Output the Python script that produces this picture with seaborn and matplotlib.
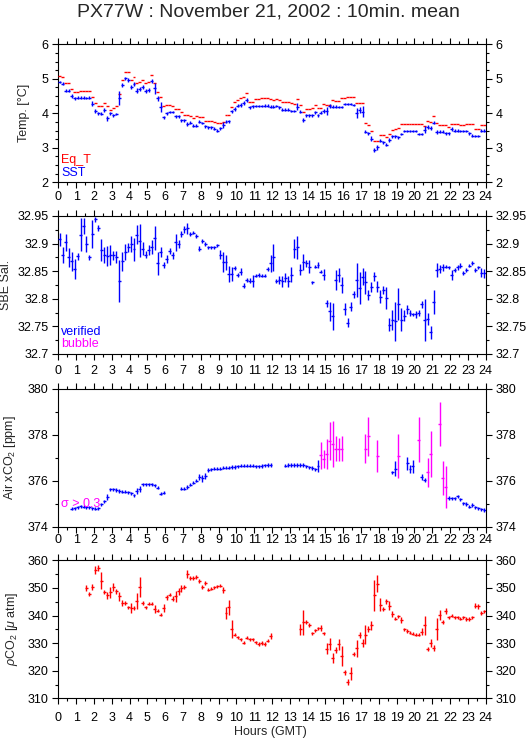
import numpy as np
import matplotlib
matplotlib.use('Agg')
import matplotlib.pyplot as plt
from matplotlib.ticker import MultipleLocator, FuncFormatter
import seaborn as sns

# 10 minute means, 144 bins per day (None = no data)
# --- panel 1: temperatures [degC]
eq_t = [5.07, 5.05, 4.87, 4.87, 4.70, 4.61,  4.61, 4.64, 4.64, 4.65, 4.66, 4.48,
        4.29, 4.20, 4.20, 4.29, 4.20, 4.10,  4.16, 4.20, 4.55, 4.97, 5.19, 5.19,
        4.97, 5.04, 4.87, 4.90, 4.97, 4.87,  4.92, 5.11, 4.87, 4.61, 4.46, 4.20,
        4.24, 4.24, 4.22, 4.12, 4.12, 4.03,  3.95, 3.95, 3.92, 3.87, 3.92, 3.90,
        3.90, 3.79, 3.79, 3.79, 3.74, 3.71,  3.71, 3.74, 3.95, 3.95, 4.19, 4.32,
        4.39, 4.43, 4.47, 4.58, 4.34, 4.34,  4.41, 4.41, 4.43, 4.43, 4.43, 4.40,
        4.39, 4.40, 4.39, 4.32, 4.32, 4.32,  4.30, 4.28, 4.40, 4.23, 4.05, 4.12,
        4.12, 4.14, 4.23, 4.14, 4.14, 4.26,  4.24, 4.24, 4.39, 4.37, 4.37, 4.43,
        4.43, 4.46, 4.46, 4.46, 4.29, 4.29,  4.29, 3.71, 3.65, 3.48, 3.20, 3.20,
        3.38, 3.38, 3.30, 3.41, 3.52, 3.54,  3.57, 3.68, 3.68, 3.68, 3.68, 3.68,
        3.68, 3.68, 3.68, 3.63, 3.78, 3.75,  3.92, 3.71, 3.65, 3.65, 3.65, 3.60,
        3.70, 3.68, 3.68, 3.65, 3.65, 3.68,  3.68, 3.68, 3.55, 3.55, 3.65, 3.65]
sst = [4.90, 4.86, 4.66, 4.66, 4.50, 4.43,  4.45, 4.45, 4.45, 4.44, 4.45, 4.28,
       4.07, 4.00, 3.99, 4.10, 3.85, 4.00,  3.94, 3.98, 4.45, 4.82, 5.01, 4.97,
       4.77, 4.85, 4.66, 4.70, 4.77, 4.65,  4.68, 4.94, 4.72, 4.43, 4.19, 3.88,
       4.00, 4.04, 4.04, 3.91, 3.91, 3.80,  3.80, 3.69, 3.73, 3.64, 3.64, 3.76,
       3.72, 3.62, 3.59, 3.59, 3.55, 3.50,  3.57, 3.66, 3.76, 3.77, 4.06, 4.12,
       4.22, 4.24, 4.31, 4.39, 4.17, 4.20,  4.20, 4.21, 4.22, 4.22, 4.22, 4.19,
       4.19, 4.20, 4.17, 4.10, 4.10, 4.10,  4.07, 4.07, 4.19, 4.05, 3.81, 3.94,
       3.94, 3.94, 4.03, 3.94, 4.02, 4.07,  4.07, 4.21, 4.19, 4.19, 4.18, 4.18,
       4.27, 4.27, 4.27, 4.24, 4.00, 4.10,  4.05, 3.47, 3.42, 3.26, 2.94, 3.01,
       3.21, 3.16, 3.09, 3.23, 3.33, 3.33,  3.30, 3.40, 3.48, 3.48, 3.48, 3.48,
       3.48, 3.40, 3.40, 3.52, 3.61, 3.57,  3.73, 3.47, 3.47, 3.47, 3.42, 3.42,
       3.55, 3.50, 3.50, 3.49, 3.49, 3.49,  3.42, 3.35, 3.35, 3.35, 3.50, 3.50]
sst_err = [.03, .04, .05, .05, .05, .05,  .05, .04, .04, .04, .04, .08,
           .05, .04, .04, .05, .07, .05,  .04, .04, .20, .05, .04, .05,
           .06, .05, .06, .06, .06, .05,  .05, .05, .17, .06, .15, .05,
           .05, .04, .04, .05, .05, .04,  .04, .05, .04, .04, .04, .04,
           .04, .04, .04, .04, .04, .04,  .04, .08, .05, .05, .05, .05,
           .05, .06, .06, .05, .05, .04,  .03, .03, .03, .04, .05, .04,
           .04, .03, .04, .04, .04, .04,  .04, .04, .10, .04, .05, .05,
           .05, .04, .04, .05, .04, .05,  .12, .05, .04, .04, .04, .04,
           .04, .04, .04, .04, .15, .08,  .17, .05, .05, .07, .06, .06,
           .05, .05, .04, .05, .05, .04,  .04, .04, .03, .03, .03, .03,
           .03, .04, .04, .10, .06, .05,  .05, .06, .05, .04, .04, .04,
           .05, .04, .04, .04, .04, .04,  .04, .04, .03, .03, .05, .04]

# --- panel 2: SBE salinity
sal = [32.908, 32.879, 32.902, 32.875, 32.868, 32.854,  32.877, 32.916, 32.932, 32.899, 32.875, 32.917,
       32.944, 32.928, 32.888, 32.879, 32.878, 32.879,  32.879, 32.876, 32.832, 32.868, 32.885, 32.893,
       32.899, 32.890, 32.916, 32.905, 32.891, 32.880,  32.888, 32.894, 32.910, 32.864, 32.885, 32.861,
       32.872, 32.887, 32.879, 32.902, 32.899, 32.917,  32.926, 32.928, 32.917, 32.920, 32.914, 32.891,
       32.905, 32.899, 32.893, 32.893, 32.893, 32.897,  32.880, 32.867, 32.866, 32.845, 32.845, 32.856,
       32.843, 32.849, 32.824, 32.834, 32.833, 32.833,  32.842, 32.843, 32.842, 32.842, 32.854, 32.864,
       32.875, 32.832, 32.834, 32.832, 32.838, 32.832,  32.844, 32.891, 32.893, 32.853, 32.867, 32.864,
       32.858, 32.830, 32.858, 32.861, 32.849, 32.844,  32.792, 32.777, 32.768, 32.834, 32.843, 32.825,
       32.782, 32.757, 32.786, 32.808, 32.834, 32.819,  32.840, 32.830, 32.807, 32.822, 32.841, 32.822,
       32.804, 32.816, 32.801, 32.753, 32.762, 32.759,  32.791, 32.762, 32.769, 32.781, 32.774, 32.772,
       32.772, 32.774, 32.790, 32.762, 32.763, 32.739,  32.794, 32.852, 32.854, 32.857, 32.858, 32.857,
       32.843, 32.852, 32.857, 32.860, 32.847, 32.852,  32.860, 32.865, 32.852, 32.857, 32.847, 32.846]
sal_err = [.012, .014, .015, .017, .017, .018,  .006, .030, .014, .014, .004, .025,
           .004, .006, .020, .015, .018, .018,  .008, .011, .038, .017, .015, .008,
           .014, .021, .017, .030, .012, .006,  .009, .012, .021, .021, .009, .006,
           .008, .005, .006, .015, .007, .005,  .006, .010, .004, .003, .004, .004,
           .004, .004, .003, .003, .003, .003,  .008, .018, .014, .014, .012, .004,
           .004, .006, .004, .004, .004, .011,  .003, .003, .003, .003, .004, .015,
           .024, .003, .008, .010, .008, .010,  .014, .017, .020, .010, .014, .006,
           .012, .003, .003, .006, .003, .010,  .006, .018, .025, .018, .013, .015,
           .011, .008, .009, .006, .030, .029,  .015, .021, .009, .009, .008, .010,
           .012, .008, .020, .012, .018, .035,  .029, .021, .010, .008, .005, .003,
           .006, .005, .006, .038, .011, .011,  .022, .012, .008, .006, .003, .003,
           .009, .004, .005, .004, .003, .003,  .003, .003, .003, .003, .008, .008]

# --- panel 3: air xCO2 [ppm], verified values
n = None
xco2 = [n, n, n, n, 374.78, 374.80,  374.85, 374.88, 374.87, 374.85, 374.84, 374.80,
        374.78, 374.80, 374.97, 375.10, 375.30, 375.63,  375.63, 375.60, 375.55, 375.52, 375.52, 375.50,
        375.45, 375.37, 375.55, 375.65, 375.85, 375.85,  375.85, 375.84, 375.80, 375.70, 375.43, 375.48,
        n, n, n, n, n, 375.65,  375.65, 375.73, 375.83, 375.92, 376.00, 376.17,
        376.10, 376.20, 376.47, 376.50, 376.53, 376.53,  376.53, 376.56, 376.57, 376.57, 376.60, 376.60,
        376.63, 376.65, 376.65, 376.65, 376.65, 376.65,  376.63, 376.63, 376.64, 376.67, 376.68, 376.68,
        n, n, n, n, 376.66, 376.68,  376.68, 376.68, 376.68, 376.68, 376.68, 376.63,
        376.58, 376.55, 376.50, 376.63, n, n,  n, n, n, n, n, n,
        n, n, n, n, n, n,  n, n, n, n, n, n,
        n, n, n, n, 376.36, 376.53,  n, n, n, 376.75, 376.50, 376.63,
        n, n, 376.17, 376.03, n, n,  n, n, n, n, n, 375.26,
        375.23, 375.23, 375.33, 375.19, 375.01, 374.99,  374.87, 374.94, 374.84, 374.80, 374.75, 374.73]
xco2_err = [0, 0, 0, 0, .07, .07,  .07, .07, .07, .07, .07, .07,
            .07, .07, .07, .07, .12, .07,  .07, .07, .07, .07, .07, .07,
            .07, .07, .12, .12, .07, .07,  .07, .07, .07, .07, .07, .07,
            0, 0, 0, 0, 0, .07,  .07, .07, .07, .07, .07, .12,
            .15, .12, .07, .07, .07, .07,  .07, .07, .07, .07, .07, .07,
            .07, .07, .07, .07, .07, .07,  .07, .07, .07, .07, .07, .07,
            0, 0, 0, 0, .07, .07,  .07, .07, .07, .07, .07, .07,
            .07, .07, .07, .27, 0, 0,  0, 0, 0, 0, 0, 0,
            0, 0, 0, 0, 0, 0,  0, 0, 0, 0, 0, 0,
            0, 0, 0, 0, .08, .33,  0, 0, 0, .28, .18, .29,
            0, 0, .14, .07, 0, 0,  0, 0, 0, 0, 0, .08,
            .07, .07, .07, .07, .07, .07,  .07, .07, .07, .07, .07, .10]
# flagged (bubble) values: bin index, value, sigma
bubble_bin = [88, 89, 90, 91, 92, 93, 94, 95, 103, 104, 107, 114, 121, 124, 125, 128, 129, 130]
bubble_val = [377.11, 376.94, 377.18, 377.72, 377.59, 377.40, 377.37, 377.40, 377.40,
              377.93, 377.07, 377.07, 377.79, 376.36, 377.18, 378.48, 376.10, 375.74]
bubble_err = [0.58, 0.38, 0.65, 0.82, 1.00, 0.55, 0.50, 0.55, 0.62,
              0.85, 0.70, 0.96, 0.97, 0.62, 1.00, 0.96, 0.74, 0.92]

# --- panel 4: pCO2 [uatm]
pco2 = [n, n, n, n, n, n,  n, n, n, 349.9, 347.8, 350.3,
        356.6, 357.2, 352.6, 348.5, 347.3, 348.5,  350.3, 348.7, 346.9, 344.6, 344.5, 342.9,
        342.7, 342.7, 345.3, 350.2, 344.5, 343.0,  344.3, 344.3, 342.4, 341.8, 340.3, 342.7,
        346.6, 347.5, 346.1, 346.9, 348.7, 349.9,  350.3, 355.0, 353.6, 353.6, 353.9, 352.6,
        350.3, 351.8, 349.3, 349.7, 350.2, 350.6,  350.8, 349.2, 340.9, 343.0, 335.0, 333.0,
        332.1, 331.4, 330.2, 332.0, 331.4, 331.4,  330.3, 329.7, 330.0, 329.7, 330.9, 332.6,
        n, n, n, n, n, n,  n, n, n, 335.0, 337.6, 337.6,
        336.6, 333.6, 334.6, 335.4, 335.4, 333.6,  327.9, 329.7, 324.5, 327.5, 329.6, 325.4,
        319.4, 316.0, 319.1, 326.1, 328.1, 333.0,  330.0, 333.0, 335.2, 336.4, 347.3, 351.5,
        343.9, 342.4, 345.1, 343.6, 340.5, 338.8,  339.7, 338.4, 335.0, 334.4, 333.8, 333.4,
        333.0, 333.0, 334.2, 336.4, 327.9, 330.0,  328.1, 335.0, 340.3, 337.6, 341.5, 339.4,
        339.9, 339.4, 339.4, 338.8, 339.4, 338.7,  338.7, 339.3, 343.5, 343.3, 340.9, 341.5]
pco2_err = [0, 0, 0, 0, 0, 0,  0, 0, 0, 1.0, 0.6, 1.0,
            1.5, 1.0, 3.0, 0.6, 1.2, 2.0,  1.3, 1.0, 1.5, 1.0, 0.6, 0.6,
            1.7, 0.6, 2.8, 3.6, 0.8, 0.6,  0.6, 0.6, 1.5, 0.6, 0.6, 1.5,
            1.0, 0.6, 1.0, 2.0, 1.2, 1.3,  0.6, 1.5, 0.6, 0.6, 0.6, 0.8,
            0.6, 0.6, 0.6, 0.6, 0.6, 0.6,  0.6, 1.2, 2.0, 2.7, 3.3, 0.6,
            0.6, 0.6, 0.6, 0.6, 0.6, 0.6,  0.6, 0.6, 0.6, 0.6, 0.6, 1.0,
            0, 0, 0, 0, 0, 0,  0, 0, 0, 2.0, 4.5, 0.6,
            0.6, 0.6, 0.6, 0.6, 1.0, 0.6,  2.0, 2.2, 1.8, 1.2, 2.0, 3.6,
            1.0, 1.0, 2.4, 0.6, 3.0, 1.2,  1.5, 3.5, 1.0, 1.5, 5.5, 3.0,
            2.3, 0.6, 1.0, 1.5, 1.2, 0.6,  0.6, 1.2, 0.6, 0.6, 0.6, 0.6,
            0.6, 0.6, 1.2, 3.6, 0.6, 1.5,  1.1, 4.0, 1.8, 0.6, 1.1, 0.6,
            0.6, 0.6, 0.6, 0.6, 0.6, 0.6,  0.6, 0.6, 0.9, 0.9, 0.6, 0.6]

hours = (np.arange(144) + 0.5) / 6.0   # bin centres
half_bin = 1.0 / 12.0

sns.set_theme(style='ticks')
plt.rcParams['font.family'] = ['Liberation Sans', 'DejaVu Sans']
plt.rcParams['mathtext.fontset'] = 'custom'
plt.rcParams['mathtext.rm'] = 'Liberation Sans'
plt.rcParams['mathtext.it'] = 'Liberation Sans:italic'
plt.rcParams['axes.linewidth'] = 0.8


def draw(ax, x, vals, errs, color):
    v = np.array(vals, dtype=float)
    e = None if errs is None else np.array(errs, dtype=float)
    ok = ~np.isnan(v)
    ax.errorbar(np.asarray(x)[ok], v[ok], xerr=half_bin,
                yerr=None if e is None else e[ok],
                fmt='none', ecolor=color, elinewidth=1.0, capsize=0, zorder=3)


fig = plt.figure(figsize=(5.29, 7.39), dpi=100)
L, W, H = 58.3 / 529, 427.4 / 529, 138 / 739
bottoms_px = [182.3, 354.0, 526.7, 698.3]
axes = [fig.add_axes([L, 1 - b / 739, W, H]) for b in bottoms_px]

ylims = [(2, 6), (32.7, 32.95), (374, 380), (310, 360)]
ymaj = [1, 0.05, 2, 10]
ymin = [0.25, 0.025, 1, 5]
ylabels = ['Temp. [°C]', 'SBE Sal.', 'Air xCO$_2$ [ppm]', r'$\rho$CO$_2$ [$\mu$ atm]']
ylab_x = [-0.066, -0.108, -0.094, -0.090]
# (bottom labels, top labels, pad)
xlab = [(True, False, 2.5), (False, False, 3), (False, True, 4.5), (True, True, 6)]

for i, ax in enumerate(axes):
    ax.set_xlim(0, 24)
    ax.set_ylim(*ylims[i])
    ax.xaxis.set_major_locator(MultipleLocator(1))
    ax.xaxis.set_minor_locator(MultipleLocator(0.5))
    ax.yaxis.set_major_locator(MultipleLocator(ymaj[i]))
    ax.yaxis.set_minor_locator(MultipleLocator(ymin[i]))
    ax.yaxis.set_major_formatter(FuncFormatter(lambda v, p: '%g' % round(v, 3)))
    ax.tick_params(which='both', direction='out', top=True, right=True,
                   width=0.8, colors='black', labelsize=9)
    ax.tick_params(which='major', length=4)
    ax.tick_params(which='minor', length=2.5)
    ax.tick_params(axis='y', labelleft=True, labelright=True, pad=3)
    b, t, pad = xlab[i]
    ax.tick_params(axis='x', labelbottom=b, labeltop=t, pad=pad)
    for s in ax.spines.values():
        s.set_color('black')
    ax.set_ylabel(ylabels[i], fontsize=9)
    ax.yaxis.set_label_coords(ylab_x[i], 0.5)

ax1, ax2, ax3, ax4 = axes
draw(ax1, hours, eq_t, None, 'red')
draw(ax1, hours, sst, sst_err, 'blue')
draw(ax2, hours, sal, sal_err, 'blue')
draw(ax3, hours, xco2, xco2_err, 'blue')
draw(ax3, hours[bubble_bin], bubble_val, bubble_err, 'magenta')
draw(ax4, hours, pco2, pco2_err, 'red')

fig.text(61 / 529, 1 - 160 / 739, 'Eq_T', color='red', fontsize=9, va='center')
fig.text(61 / 529, 1 - 173 / 739, 'SST', color='blue', fontsize=9, va='center')
fig.text(61 / 529, 1 - 332 / 739, 'verified', color='blue', fontsize=9, va='center')
fig.text(61 / 529, 1 - 344 / 739, 'bubble', color='magenta', fontsize=9, va='center')
fig.text(61 / 529, 1 - 504 / 739, 'σ > 0.3', color='magenta', fontsize=9, va='center', zorder=0)

fig.text(268 / 529, 1 - 12 / 739, 'PX77W : November 21, 2002 : 10min. mean',
         ha='center', va='center', fontsize=14)
fig.text(270 / 529, 1 - 732 / 739, 'Hours (GMT)', ha='center', va='center', fontsize=9)

fig.savefig('out.png', dpi=100, facecolor='white')
